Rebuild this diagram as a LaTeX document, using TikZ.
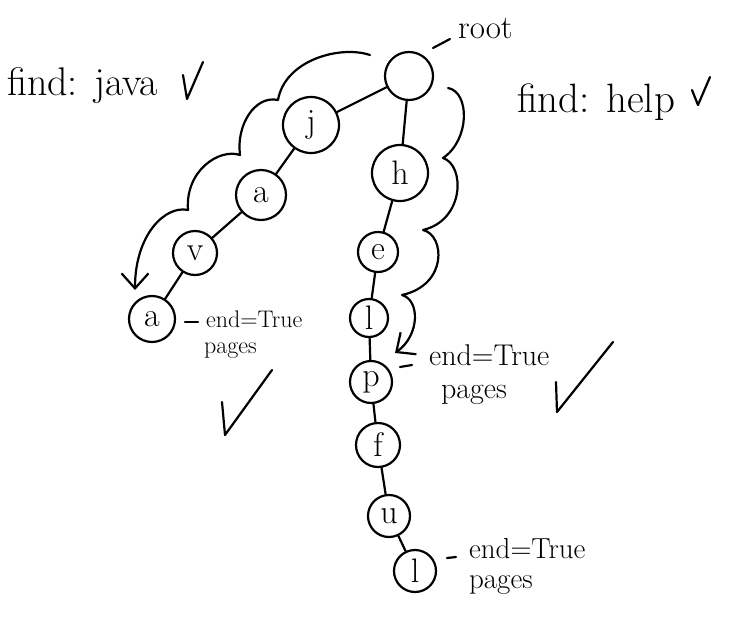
\documentclass[tikz,border=0pt]{standalone}
\usetikzlibrary{arrows.meta}
\begin{document}
\begin{tikzpicture}[x=1pt,y=-1pt,line width=2.2pt,line cap=round,line join=round,
  letter/.style={circle,draw,inner sep=0pt,font=\fontsize{34}{36}\selectfont},
  lbl/.style={anchor=base west,inner sep=0pt},
  flow/.style={-{Straight Barb[length=15pt,width=27pt]}}]
\useasboundingbox (0,0) rectangle (756,635);
% trie nodes
\node[letter,minimum size=48pt] (root) at (409,76) {};
\node[letter,minimum size=56pt] (j) at (311,125) {j};
\node[letter,minimum size=50pt] (a1) at (261,195) {a};
\node[letter,minimum size=44pt] (v) at (195,253) {v};
\node[letter,minimum size=46pt] (a2) at (152,319) {a};
\node[letter,minimum size=56pt] (h) at (400,173) {h};
\node[letter,minimum size=40pt] (e) at (378,252) {e};
\node[letter,minimum size=38pt] (l1) at (369,318) {l};
\node[letter,minimum size=42pt] (p) at (371,382) {p};
\node[letter,minimum size=44pt] (f) at (378,445) {f};
\node[letter,minimum size=42pt] (u) at (389,516) {u};
\node[letter,minimum size=42pt] (l2) at (415,571) {l};
% edges
\draw (root) -- (j);
\draw (j) -- (a1);
\draw (a1) -- (v);
\draw (v) -- (a2);
\draw (root) -- (h);
\draw (h) -- (e);
\draw (e) -- (l1);
\draw (l1) -- (p);
\draw (p) -- (f);
\draw (f) -- (u);
\draw (u) -- (l2);
% texts
\node[lbl,font=\fontsize{33}{36}\selectfont] (rootlbl) at (457,38) {root};
\coordinate (rd1) at (433,48); \coordinate (rd2) at (450,39);
\draw (rd1) -- (rd2);
\node[lbl,font=\fontsize{40}{44}\selectfont] (fjava) at (6,95) {find: java};
\node[lbl,font=\fontsize{41}{45}\selectfont] (fhelp) at (516,112) {find: help};
\draw (183,75) -- (187,99) -- (203,62);
\draw (692,90) -- (698,105) -- (710,77);
% end labels near a2
\coordinate (ad1) at (185,322); \coordinate (ad2) at (198,322);
\draw (ad1) -- (ad2);
\node[lbl,font=\fontsize{24}{28}\selectfont] (aend) at (205,327) {end=True};
\node[lbl,font=\fontsize{24}{28}\selectfont] (apages) at (203,353) {pages};
\draw (222,402) -- (225,435) -- (272,370);
% end labels near p
\coordinate (pd1) at (400,367); \coordinate (pd2) at (412,365);
\draw (pd1) -- (pd2);
\node[lbl,font=\fontsize{30}{34}\selectfont] (pend) at (428,365) {end=True};
\node[lbl,font=\fontsize{30}{34}\selectfont] (ppages) at (440,398) {pages};
\draw (556,382) -- (557,412) -- (613,342);
% end labels near l2
\coordinate (ld1) at (447,558); \coordinate (ld2) at (456,557);
\draw (ld1) -- (ld2);
\node[lbl,font=\fontsize{29}{33}\selectfont] (lend) at (468,558) {end=True};
\node[lbl,font=\fontsize{29}{33}\selectfont] (lpages) at (468,588) {pages};
% cloud arrows
\coordinate (cl0) at (370,55);
\coordinate (cltip) at (135,290);
\draw[flow] (cl0) .. controls (340,45) and (285,60) .. (278,100)
  .. controls (255,95) and (236,125) .. (240,155)
  .. controls (220,148) and (185,170) .. (188,210)
  .. controls (165,205) and (135,235) .. (cltip);
\coordinate (cr0) at (448,88);
\coordinate (crtip) at (395,353);
\draw[flow] (cr0) .. controls (470,92) and (470,140) .. (443,158)
  .. controls (465,165) and (465,220) .. (423,230)
  .. controls (445,235) and (448,285) .. (402,295)
  .. controls (420,300) and (420,335) .. (crtip);
\end{tikzpicture}
\end{document}
